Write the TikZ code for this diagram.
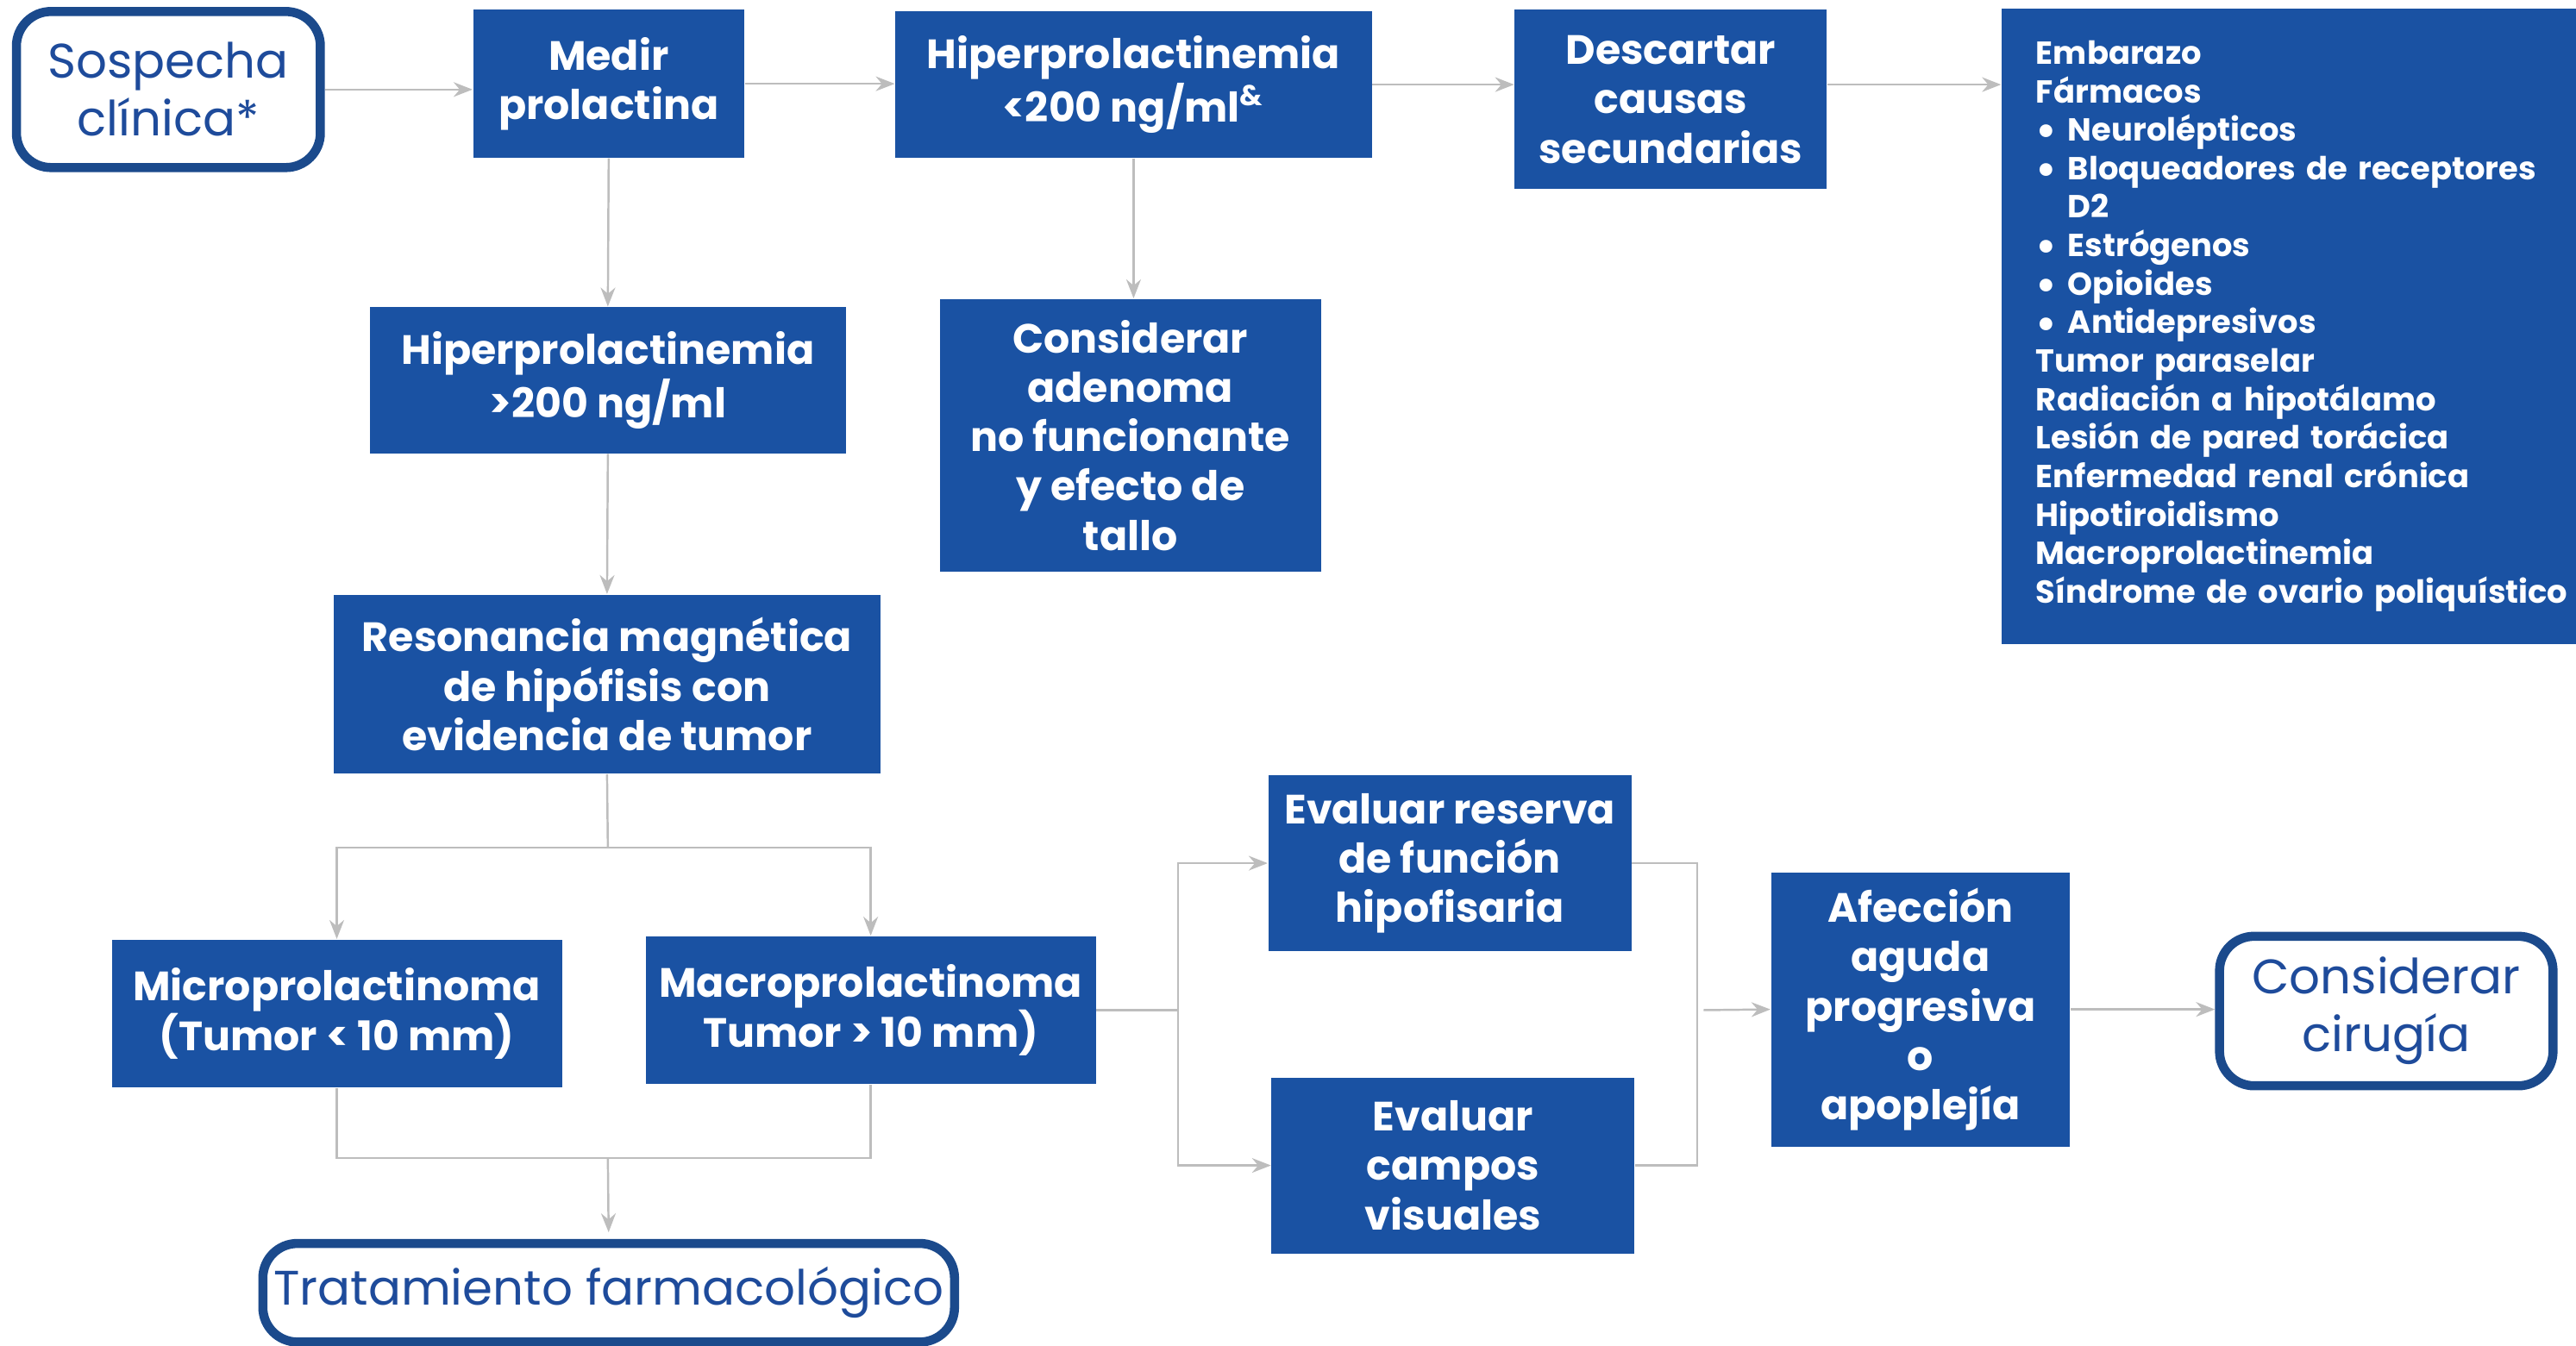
\documentclass[tikz,border=0pt]{standalone}
\usepackage{fontspec}
\setmainfont{Poppins}
\usetikzlibrary{arrows.meta}
\definecolor{boxblue}{HTML}{1A52A3}
\definecolor{rimblue}{HTML}{1B4A8C}
\definecolor{txtblue}{HTML}{1E4B9B}
\definecolor{linegray}{HTML}{BDBDBD}
\newcommand{\pxu}{0.1905mm}
\newcommand{\bul}{\raisebox{-0.25ex}{\fontsize{14}{12.7}\selectfont\textbullet}\ }

\tikzset{
  blk/.style={fill=boxblue, text=white, align=center, inner sep=0pt, font=\fontsize{13.5}{16.3}\selectfont\bfseries},
  rim/.style={draw=rimblue, line width=3pt, rounded corners=4mm, fill=white, text=txtblue, align=center, inner sep=0pt, font=\fontsize{16}{19}\selectfont},
  conn/.style={draw=linegray, line width=0.7pt, -{Stealth[length=2.2mm, width=1.7mm]}},
  wire/.style={draw=linegray, line width=0.7pt},
}

\begin{document}
\begin{tikzpicture}[x=\pxu, y=-\pxu]
\useasboundingbox (0,0) rectangle (1568,819);
% top row
\node[rim, minimum width=185*\pxu, minimum height=95*\pxu] (sosp) at (102.5,54.5) {Sospecha\\clínica*};
\node[blk, minimum width=165*\pxu, minimum height=90*\pxu] (medir) at (370.5,51) {Medir\\prolactina};
\node[blk, minimum width=290*\pxu, minimum height=89*\pxu] (hipA) at (690,51.5) {Hiperprolactinemia\\<200 ng/ml\textsuperscript{\&}};
\node[blk, minimum width=190*\pxu, minimum height=109*\pxu] (desc) at (1017,60.5) {Descartar\\causas\\secundarias};
\node[blk, anchor=west, align=left, text width=328*\pxu, inner xsep=21*\pxu, minimum height=387*\pxu,
      font=\fontsize{10.5}{12.7}\selectfont\bfseries] (causas) at (1218,198.5)
  {Embarazo\\Fármacos\\\bul Neurolépticos\\\bul Bloqueadores de receptores\\\hphantom{\bul}D2\\
   \bul Estrógenos\\\bul Opioides\\\bul Antidepresivos\\Tumor paraselar\\Radiación a hipotálamo\\
   Lesión de pared torácica\\Enfermedad renal crónica\\Hipotiroidismo\\Macroprolactinemia\\Síndrome de ovario poliquístico};
% middle
\node[blk, minimum width=290*\pxu, minimum height=89*\pxu] (hipB) at (370,231.5) {Hiperprolactinemia\\>200 ng/ml};
\node[blk, minimum width=232*\pxu, minimum height=166*\pxu] (adenoma) at (688,265) {Considerar\\adenoma\\no funcionante\\y efecto de\\tallo};
\node[blk, minimum width=333*\pxu, minimum height=109*\pxu] (reso) at (369.5,416.5) {Resonancia magnética\\de hipófisis con\\evidencia de tumor};
% bottom
\node[blk, minimum width=274*\pxu, minimum height=90*\pxu] (micro) at (205,617) {Microprolactinoma\\(Tumor < 10 mm)};
\node[blk, minimum width=274*\pxu, minimum height=90*\pxu] (macro) at (530,615) {Macroprolactinoma\\Tumor > 10 mm)};
\node[rim, minimum width=421*\pxu, minimum height=60*\pxu] (trat) at (370.5,787) {Tratamiento farmacológico};
\node[blk, minimum width=221*\pxu, minimum height=107*\pxu] (reserva) at (882.5,525.5) {Evaluar reserva\\de función\\hipofisaria};
\node[blk, minimum width=221*\pxu, minimum height=107*\pxu] (campos) at (884.5,709.5) {Evaluar\\campos\\visuales};
\node[blk, minimum width=182*\pxu, minimum height=167*\pxu] (afec) at (1169,614.5) {Afección\\aguda\\progresiva\\o\\apoplejía};
\node[rim, minimum width=203*\pxu, minimum height=91*\pxu] (cirugia) at (1452.5,615.5) {Considerar\\cirugía};

\coordinate (split) at (370,516);
\coordinate (join) at (370,705);
\coordinate (fork) at (717,615);
\coordinate (merge) at (1033,615);

% connectors
\draw[conn] (sosp.east) -- (sosp.east -| medir.west);
\draw[conn] (medir.east) -- (medir.east -| hipA.west);
\draw[conn] (hipA.east) -- (hipA.east -| desc.west);
\draw[conn] (hipA.east -| desc.east) -- (hipA.east -| causas.west);
\draw[conn] (medir.south) -- (hipB.north);
\draw[conn] (hipA.south) -- (hipA.south |- adenoma.north);
\draw[conn] (hipB.south) -- (reso.north);
\draw[wire] (reso.south) -- (split);
\draw[conn] (split) -| (micro.north);
\draw[conn] (split) -| (macro.north);
\draw[wire] (micro.south) |- (join) -| (macro.south);
\draw[conn, shorten >=4*\pxu] (join) -- (trat.north);
\draw[wire] (macro.east) -- (fork);
\draw[conn] (fork) |- (reserva.west);
\draw[conn] (fork) |- (campos.west);
\draw[wire] (reserva.east) -| (merge);
\draw[wire] (campos.east) -| (merge);
\draw[conn, shorten <=4*\pxu] (merge) -- (afec.west);
\draw[conn] (afec.east) -- (afec.east -| cirugia.west);
\end{tikzpicture}
\end{document}
